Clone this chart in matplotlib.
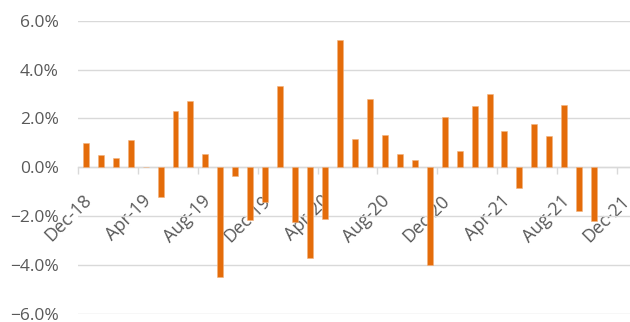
import numpy as np
import matplotlib as mpl
mpl.use('Agg')
import matplotlib.pyplot as plt
import matplotlib.ticker as ticker
import matplotlib.transforms as mtransforms

# monthly returns, Dec-18 .. Dec-21 (last two months have no data)
months = ['Dec-18', 'Jan-19', 'Feb-19', 'Mar-19', 'Apr-19', 'May-19', 'Jun-19', 'Jul-19',
          'Aug-19', 'Sep-19', 'Oct-19', 'Nov-19', 'Dec-19', 'Jan-20', 'Feb-20', 'Mar-20',
          'Apr-20', 'May-20', 'Jun-20', 'Jul-20', 'Aug-20', 'Sep-20', 'Oct-20', 'Nov-20',
          'Dec-20', 'Jan-21', 'Feb-21', 'Mar-21', 'Apr-21', 'May-21', 'Jun-21', 'Jul-21',
          'Aug-21', 'Sep-21', 'Oct-21', 'Nov-21', 'Dec-21']
returns = [1.0, 0.51, 0.39, 1.1, 0.03, -1.2, 2.31, 2.71,
           0.54, -4.5, -0.36, -2.14, -1.4, 3.31, -2.22, -3.7,
           -2.1, 5.22, 1.16, 2.81, 1.31, 0.54, 0.3, -4.0,
           2.08, 0.65, 2.53, 3.0, 1.5, -0.86, 1.79, 1.3,
           2.56, -1.77, -2.21, np.nan, np.nan]
label_every = 4

grey = '#595959'
orange = '#E46C0A'

plt.rcParams['font.family'] = ['Open Sans', 'DejaVu Sans']

fig = plt.figure(figsize=(6.3, 3.22), dpi=100)
ax = fig.add_axes([78.3 / 630, 1 - 314 / 322, (631.6 - 78.3) / 630, (314 - 20.7) / 322])

x = np.arange(len(months))
vals = np.array(returns) / 100
ax.bar(x, vals, width=0.4, color=orange, edgecolor='#F2B27E', linewidth=0.4, zorder=3)

ax.set_xlim(-0.5, len(months) - 0.5)
ax.set_ylim(-0.06, 0.06)
ax.yaxis.set_major_locator(ticker.MultipleLocator(0.02))
ax.yaxis.set_major_formatter(ticker.PercentFormatter(1.0, decimals=1))
ax.yaxis.grid(True, color='#D9D9D9', linewidth=1, zorder=0)
ax.tick_params(axis='y', length=0, pad=14, labelsize=12.5, labelcolor=grey)

for s in ['top', 'right', 'left']:
    ax.spines[s].set_visible(False)
ax.spines['bottom'].set_position(('data', 0))
ax.spines['bottom'].set_color('#D9D9D9')
ax.spines['bottom'].set_linewidth(1)
ax.spines['bottom'].set_zorder(2)

ticks = np.arange(0, len(months), label_every)
ax.set_xticks(ticks - 0.5)
ax.set_xticklabels([months[i] for i in ticks], rotation=45, ha='right', va='center',
                   rotation_mode='anchor')
ax.tick_params(axis='x', length=5, width=1, color='#D9D9D9', pad=17, labelsize=13,
               labelcolor=grey)
offset = mtransforms.ScaledTranslation(10 / 100, 0, fig.dpi_scale_trans)
for lab in ax.get_xticklabels():
    lab.set_transform(lab.get_transform() + offset)

fig.savefig('out.png', dpi=100)
